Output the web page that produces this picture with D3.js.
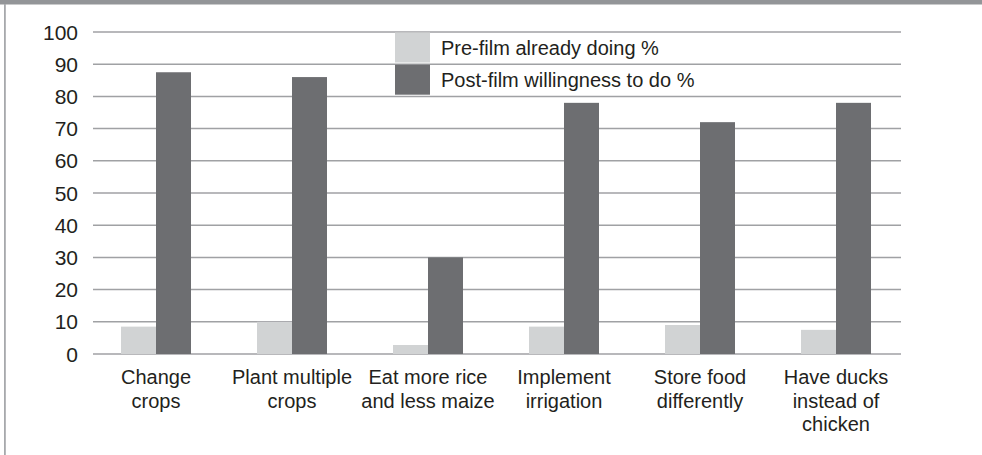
<!DOCTYPE html>
<html>
<head>
<meta charset="utf-8">
<script src="https://cdn.jsdelivr.net/npm/d3@7"></script>
<style>
  body { margin: 0; background: #fff; }
  svg text { font-family: "Liberation Sans Narrow", "Arial Narrow", "Liberation Sans", sans-serif; fill: #231f20; }
</style>
</head>
<body>
<div id="chart"></div>
<script>
// chart data
const categories = [
    ["Change", "crops"],
    ["Plant multiple", "crops"],
    ["Eat more rice", "and less maize"],
    ["Implement", "irrigation"],
    ["Store food", "differently"],
    ["Have ducks", "instead of", "chicken"]
];
const preFilm = [8.5, 10, 2.8, 8.5, 9, 7.5];
const postFilm = [87.5, 86, 30, 78, 72, 78];
const seriesNames = ["Pre-film already doing %", "Post-film willingness to do %"];
const seriesColors = ["#d1d3d4", "#6d6e71"];
const yTicks = [0, 10, 20, 30, 40, 50, 60, 70, 80, 90, 100];

drawChart();

function drawChart() {
    const width = 982;
    const height = 455;

    const svg = d3.select('#chart')
        .append('svg')
        .attr('width', width)
        .attr('height', height);

    // frame: thick bar on top, thin line on left
    svg.append('rect')
        .attr('x', 0).attr('y', 0)
        .attr('width', width).attr('height', 4.5)
        .attr('fill', '#939598');
    svg.append('rect')
        .attr('x', 4).attr('y', 4)
        .attr('width', 1.8).attr('height', height - 4)
        .attr('fill', '#a7a9ac');

    const gridLeft = 93;
    const gridRight = 901;

    const x = d3.scaleBand()
        .domain(d3.range(categories.length))
        .range([88, 904]);

    const xInner = d3.scaleBand()
        .domain([0, 1])
        .range([0, 70]);

    const y = d3.scaleLinear()
        .domain([0, 100])
        .range([354, 32]);

    // gridlines
    svg.append('g')
        .selectAll('line')
        .data(yTicks)
        .join('line')
        .attr('x1', gridLeft)
        .attr('x2', gridRight)
        .attr('y1', d => y(d))
        .attr('y2', d => y(d))
        .attr('stroke', '#a0a1a4')
        .attr('stroke-width', 1.5);

    // y tick labels
    svg.append('g')
        .selectAll('text')
        .data(yTicks)
        .join('text')
        .attr('x', 78)
        .attr('y', d => y(d))
        .attr('dy', '0.36em')
        .attr('text-anchor', 'end')
        .style('font-size', '21px')
        .text(d => d);

    // bars
    const series = [preFilm, postFilm];
    series.forEach((values, s) => {
        svg.append('g')
            .selectAll('rect')
            .data(values)
            .join('rect')
            .attr('x', (d, i) => x(i) + x.bandwidth() / 2 - 35 + xInner(s))
            .attr('y', d => y(d))
            .attr('width', xInner.bandwidth())
            .attr('height', d => y(0) - y(d))
            .attr('fill', seriesColors[s]);
    });

    // category labels
    const labels = svg.append('g')
        .selectAll('text')
        .data(categories)
        .join('text')
        .attr('x', (d, i) => x(i) + x.bandwidth() / 2)
        .attr('y', 384)
        .attr('text-anchor', 'middle')
        .style('font-size', '20px');

    labels.selectAll('tspan')
        .data((d, i) => d.map(line => ({ line, cx: x(i) + x.bandwidth() / 2 })))
        .join('tspan')
        .attr('x', d => d.cx)
        .attr('dy', (d, j) => j === 0 ? 0 : 23.7)
        .text(d => d.line);

    // legend
    const legend = svg.append('g');
    seriesNames.forEach((name, s) => {
        const top = y(100 - 10 * s);
        legend.append('rect')
            .attr('x', 395)
            .attr('y', top + 0.5)
            .attr('width', 35)
            .attr('height', 30)
            .attr('fill', seriesColors[s]);
        legend.append('text')
            .attr('x', 441)
            .attr('y', top + 16)
            .attr('dy', '0.36em')
            .style('font-size', '20px')
            .text(name);
    });
}
</script>
</body>
</html>
